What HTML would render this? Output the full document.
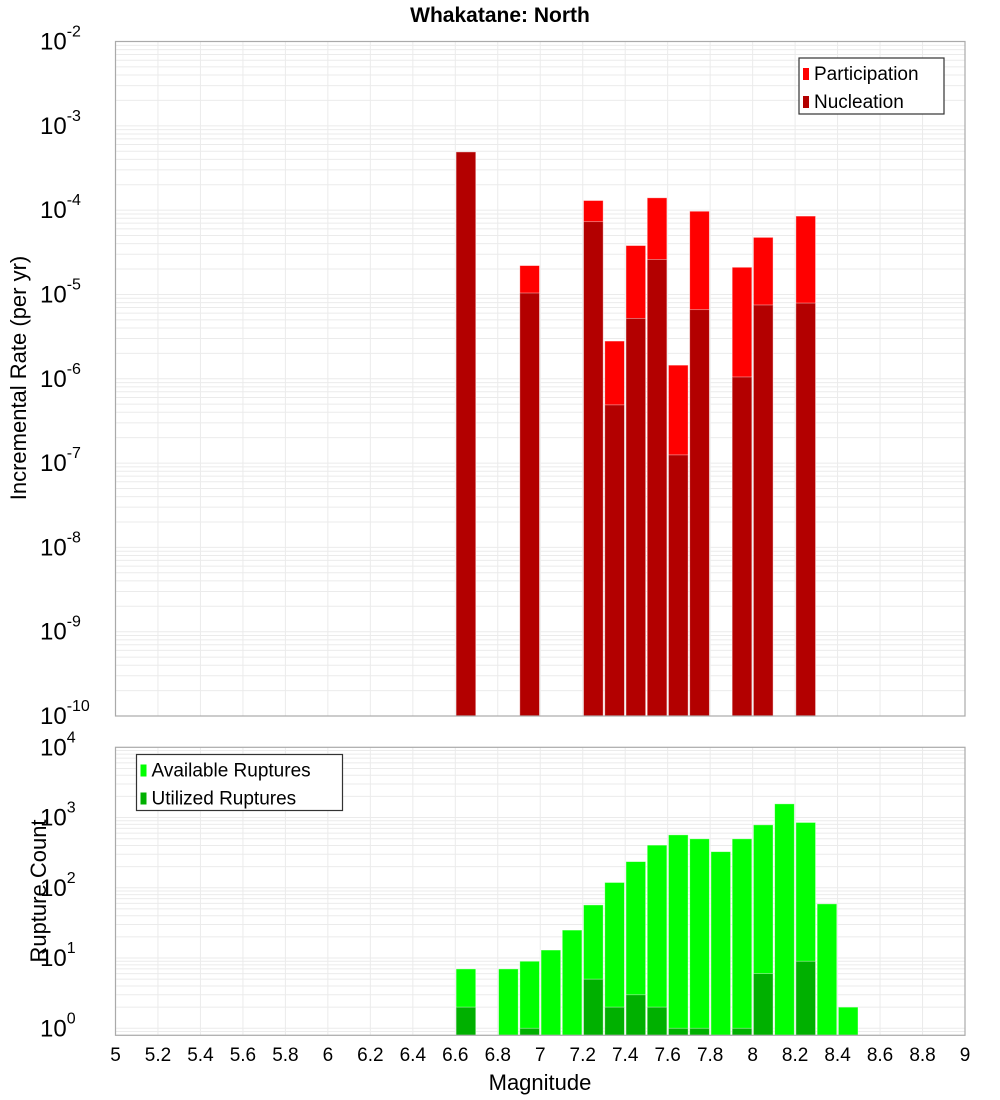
<!DOCTYPE html>
<html><head><meta charset="utf-8"><style>
body{margin:0;background:#fff}
svg{display:block;font-family:"Liberation Sans","DejaVu Sans",sans-serif}
</style></head><body>
<svg id="chart" width="1000" height="1100">
<text x="500" y="22" text-anchor="middle" font-size="21" font-weight="bold">Whakatane: North</text>
<g id="top"></g><g id="bot"></g>
<text x="540" y="1090" text-anchor="middle" font-size="22">Magnitude</text>
<text transform="translate(26,378) rotate(-90)" text-anchor="middle" font-size="22">Incremental Rate (per yr)</text>
<text transform="translate(46,891) rotate(-90)" text-anchor="middle" font-size="22">Rupture Count</text>
</svg>
<script>
const rateMags=[6.65,6.95,7.25,7.35,7.45,7.55,7.65,7.75,7.95,8.05,8.25];
const participation=[4.9e-4,2.2e-5,1.3e-4,2.8e-6,3.8e-5,1.4e-4,1.45e-6,9.7e-5,2.1e-5,4.75e-5,8.5e-5];
const nucleation=[4.9e-4,1.04e-5,7.3e-5,4.9e-7,5.2e-6,2.6e-5,1.25e-7,6.6e-6,1.05e-6,7.5e-6,7.9e-6];
const countMags=[6.65,6.85,6.95,7.05,7.15,7.25,7.35,7.45,7.55,7.65,7.75,7.85,7.95,8.05,8.15,8.25,8.35,8.45];
const available=[7,7,9,13,25,57,119,236,405,567,498,327,498,787,1567,851,59,2];
const utilized=[2,0,1,0,0,5,2,3,2,1,1,0,1,6,0,9,0,0];
const xTicks=[5,5.2,5.4,5.6,5.8,6,6.2,6.4,6.6,6.8,7,7.2,7.4,7.6,7.8,8,8.2,8.4,8.6,8.8,9];
const topExps=[-2,-3,-4,-5,-6,-7,-8,-9,-10];
const botExps=[0,1,2,3,4];
const NS="http://www.w3.org/2000/svg";
const L=115.5,R=965;
function X(m){return L+(m-5)*(R-L)/4;}
function mk(p,t,a){const e=document.createElementNS(NS,t);for(const k in a)e.setAttribute(k,a[k]);p.appendChild(e);return e;}
function axes(g,top,bot,lmin,lmax,Y,exps,name){
  for(let d=Math.floor(lmin);d<lmax;d++)for(let k=1;k<10;k++){const v=d+Math.log10(k);if(v<lmin||v>lmax)continue;
    const l=mk(g,'line',{x1:L,x2:R,y1:Y(Math.pow(10,v)),y2:Y(Math.pow(10,v)),stroke:'#ebebeb','stroke-width':1});
    
    }
  xTicks.forEach(t=>{const l=mk(g,'line',{x1:X(t),x2:X(t),y1:top,y2:bot,stroke:'#ebebeb','stroke-width':1});
    
    });
  exps.forEach(e=>{const t=mk(g,'text',{x:40,y:Y(Math.pow(10,e))+8,'font-size':24});
    
    
    t.textContent='10';const s=mk(t,'tspan',{dy:-13,'font-size':16});s.textContent=String(e);});
}
function frame(g,top,bot,name){const r=mk(g,'rect',{x:L,y:top,width:R-L,height:bot-top,fill:'none',stroke:'#aaa','stroke-width':1.2});
  
  }
function bar(g,m,v,Y,bot,fill,name){if(!v)return;const y=Y(v);const b=mk(g,'rect',{x:X(m-0.05)+0.8,y:y,width:(R-L)/40-1.6,height:bot-y,fill:fill,stroke:'#ffffff','stroke-opacity':0.5,'stroke-width':0.8});
  
  }
function legend(g,x,y,w,items,name){const r=mk(g,'rect',{x:x,y:y,width:w,height:56,fill:'#fff',stroke:'#333','stroke-width':1.2});
  
  
  items.forEach((it,i)=>{const s=mk(g,'rect',{x:x+4,y:y+10+i*28,width:6,height:12,fill:it[1]});
    
    
    const t=mk(g,'text',{x:x+15,y:y+22+i*28,'font-size':19});
    
    
    t.textContent=it[0];});}
// top chart
const tTop=41.5,tBot=716;
const tY=v=>tTop+(-2-Math.log10(v))*(tBot-tTop)/8;
const gt=document.getElementById('top');
axes(gt,tTop,tBot,-10,-2,tY,topExps,'rate');
rateMags.forEach((m,i)=>bar(gt,m,participation[i],tY,tBot,'#ff0000','participation-bar'));
rateMags.forEach((m,i)=>bar(gt,m,nucleation[i],tY,tBot,'#b30000','nucleation-bar'));
frame(gt,tTop,tBot,'rate');
legend(gt,799,58,145,[['Participation','#ff0000'],['Nucleation','#b30000']],'rate-legend');
// bottom chart
const bTop=747.3,bBot=1035.3,bMin=-0.1,bMax=4;
const bY=v=>bBot-(Math.log10(v)-bMin)*(bBot-bTop)/(bMax-bMin);
const gb=document.getElementById('bot');
axes(gb,bTop,bBot,bMin,bMax,bY,botExps,'count');
countMags.forEach((m,i)=>bar(gb,m,available[i],bY,bBot,'#00ff00','available-bar'));
countMags.forEach((m,i)=>bar(gb,m,utilized[i],bY,bBot,'#00b000','utilized-bar'));
frame(gb,bTop,bBot,'count');
legend(gb,136.5,754.5,206,[['Available Ruptures','#00ff00'],['Utilized Ruptures','#00b000']],'count-legend');
xTicks.forEach(t=>{const e=mk(gb,'text',{x:X(t),y:1061,'text-anchor':'middle','font-size':19});
  
  
  e.textContent=String(t);});
</script>
</body></html>
